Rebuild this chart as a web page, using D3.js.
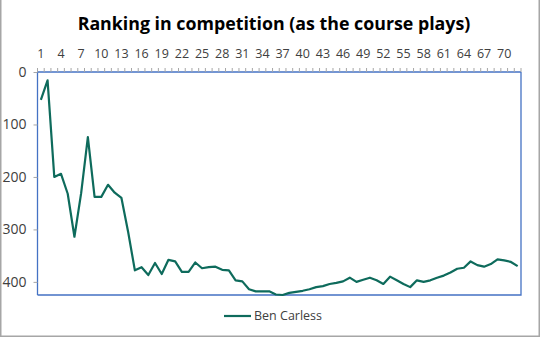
<!DOCTYPE html>
<html>
<head>
<meta charset="utf-8">
<script src="https://cdn.jsdelivr.net/npm/d3@7"></script>
<style>
  html, body { margin: 0; padding: 0; background: #fff; }
  svg { display: block; font-family: "Open Sans", "Noto Sans", sans-serif; }
</style>
</head>
<body>
<svg id="chart" width="540" height="337"></svg>
<script>
const title = "Ranking in competition (as the course plays)";
const seriesName = "Ben Carless";
const rounds = d3.range(1, 73);
const ranking = [
  53, 16, 200, 194, 232, 314, 231, 124, 238, 238,
  215, 230, 240, 305, 378, 372, 387, 364, 385, 358,
  361, 381, 381, 363, 374, 372, 371, 377, 378, 397,
  399, 414, 418, 418, 418, 424, 425, 421, 419, 417,
  414, 410, 408, 404, 402, 399, 392, 400, 396, 392,
  397, 404, 390, 397, 404, 410, 397, 400, 397, 392,
  388, 382, 375, 373, 361, 368, 371, 366, 357, 359,
  362, 370
];
const xTickLabels = d3.range(1, 73, 3);
const yTicks = [0, 100, 200, 300, 400];
const yMax = 425;

const svg = d3.select("#chart");
const W = 540, H = 337;
const plot = { left: 37.5, right: 521, top: 72, bottom: 295 };

// outer border
svg.append("path")
  .attr("d", `M0.75,0 V${H - 0.75} H${W - 0.75} V0`)
  .attr("fill", "none").attr("stroke", "#A6A6A6").attr("stroke-width", 1.5);

// title
const t = svg.append("text")
  .attr("x", 274).attr("y", 30)
  .attr("text-anchor", "middle")
  .attr("font-weight", "bold")
  .attr("font-size", 18)
  .attr("fill", "#000")
  .text(title);
const tw = t.node().getComputedTextLength();
t.attr("font-size", 18 * 393 / tw);

const x = d3.scaleBand().domain(rounds).range([plot.left, plot.right]);
const y = d3.scaleLinear().domain([0, yMax]).range([plot.top, plot.bottom]);

// plot area border (right & bottom)
svg.append("path")
  .attr("d", `M${plot.left},${plot.bottom} H${plot.right} V${plot.top}`)
  .attr("fill", "none").attr("stroke", "#4472C4").attr("stroke-width", 1.3);

// x axis on top
const xAxis = svg.append("g").attr("transform", `translate(0,${plot.top})`)
  .call(d3.axisTop(x).tickSizeOuter(0).tickSize(0).tickFormat(d => xTickLabels.includes(d) ? d : ""));
xAxis.select(".domain").attr("stroke", "#4472C4").attr("stroke-width", 1.3)
  .attr("d", `M${plot.left},0H${plot.right}`);
xAxis.selectAll("text").attr("font-size", 12.5).attr("fill", "#404040")
  .attr("font-family", "Open Sans, sans-serif").attr("dy", "0").attr("y", -14);
// minor ticks at category boundaries
const boundaries = d3.range(0, rounds.length + 1).map(i => plot.left + i * x.bandwidth());
xAxis.selectAll("line.mt").data(boundaries).enter().append("line")
  .attr("class", "mt")
  .attr("x1", d => d).attr("x2", d => d)
  .attr("y1", 0).attr("y2", -4)
  .attr("stroke", "#A6A6A6").attr("stroke-width", 1);

// y axis
const yAxis = svg.append("g").attr("transform", `translate(${plot.left},0)`)
  .call(d3.axisLeft(y).tickValues(yTicks).tickSize(4).tickSizeOuter(0).tickPadding(7));
yAxis.select(".domain").attr("stroke", "#4472C4").attr("stroke-width", 1.3)
  .attr("d", `M0,${plot.top}V${plot.bottom}`);
yAxis.selectAll(".tick line").attr("stroke", "#A6A6A6");
yAxis.selectAll("text").attr("font-size", 14).attr("fill", "#404040")
  .attr("font-family", "Open Sans, sans-serif");

// line
const line = d3.line()
  .x((d, i) => x(rounds[i]) + x.bandwidth() / 2)
  .y(d => y(d));
svg.append("path")
  .datum(ranking)
  .attr("d", line)
  .attr("fill", "none")
  .attr("stroke", "#0E6B5C")
  .attr("stroke-width", 2.2)
  .attr("stroke-linejoin", "round");

// legend
const lg = svg.append("g").attr("transform", "translate(224,316)");
lg.append("line").attr("x1", 0).attr("x2", 27).attr("y1", 0).attr("y2", 0)
  .attr("stroke", "#0E6B5C").attr("stroke-width", 2.2);
lg.append("text").attr("x", 30).attr("y", 0).attr("dy", "0.35em")
  .attr("font-size", 12.5).attr("fill", "#404040").text(seriesName);
</script>
</body>
</html>
